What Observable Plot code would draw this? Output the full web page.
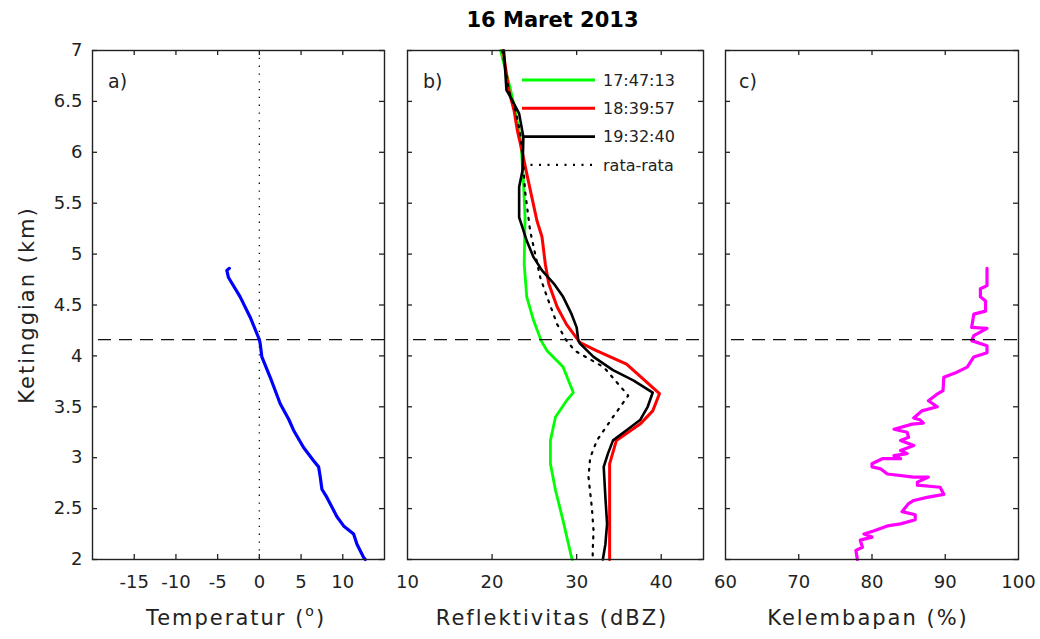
<!DOCTYPE html>
<html><head><meta charset="utf-8">
<script src="https://cdn.jsdelivr.net/npm/d3@7"></script>
<script src="https://cdn.jsdelivr.net/npm/@observablehq/plot@0.6"></script>
<style>
html,body{margin:0;padding:0;background:#fff;}
#wrap{position:relative;width:1040px;height:639px;overflow:hidden;background:#fff;}
#wrap svg{position:absolute;left:0;top:0;}
</style></head><body><div id="wrap"></div>
<script>
// ---------- data ----------
const title = "16 Maret 2013";
const yTicks = [2, 2.5, 3, 3.5, 4, 4.5, 5, 5.5, 6, 6.5, 7];
const freezingLevel = 4.16;

// a) temperature profile
const tempHeight = [4.86, 4.84, 4.77, 4.58, 4.38, 4.22, 4.16, 4.12, 3.99, 3.79, 3.53, 3.38, 3.27, 3.10, 2.97, 2.91, 2.81, 2.69, 2.61, 2.42, 2.33, 2.25, 2.15, 2.02, 2.00];
const tempValue  = [-3.6, -3.9, -3.7, -2.3, -1.1, -0.3, 0.0, 0.1, 0.3, 1.3, 2.5, 3.5, 4.1, 5.3, 6.5, 7.1, 7.3, 7.5, 8.1, 9.3, 10.1, 11.3, 11.7, 12.5, 12.7];
const tempTicks = [-15, -10, -5, 0, 5, 10];

// b) reflectivity profiles
const series = ["17:47:13", "18:39:57", "19:32:40", "rata-rata"];
const greenHeight = [7.00, 6.61, 6.38, 6.12, 5.72, 5.36, 4.90, 4.58, 4.35, 4.15, 4.05, 3.89, 3.64, 3.56, 3.40, 3.17, 2.94, 2.68, 2.38, 2.02, 2.00];
const greenDbz    = [21.0, 22.2, 22.8, 23.4, 23.7, 23.9, 23.8, 24.1, 24.9, 25.8, 26.5, 28.4, 29.6, 28.8, 27.5, 26.9, 26.9, 27.5, 28.4, 29.4, 29.5];
const redHeight = [7.00, 6.60, 6.41, 6.21, 5.99, 5.79, 5.56, 5.33, 5.17, 4.90, 4.71, 4.48, 4.31, 4.13, 4.05, 3.92, 3.63, 3.46, 3.33, 3.17, 2.94, 2.28, 2.00];
const redDbz    = [21.3, 22.0, 22.6, 23.0, 23.6, 24.1, 24.7, 25.3, 25.9, 26.3, 26.7, 27.7, 28.8, 30.4, 32.4, 35.9, 39.8, 39.0, 37.5, 34.7, 33.9, 33.9, 33.9];
const blackHeight = [7.00, 6.61, 6.54, 6.38, 6.15, 5.82, 5.66, 5.36, 5.26, 5.13, 4.97, 4.84, 4.71, 4.58, 4.41, 4.28, 4.15, 4.12, 3.99, 3.86, 3.76, 3.64, 3.50, 3.37, 3.27, 3.17, 3.04, 2.91, 2.61, 2.35, 2.15, 2.00];
const blackDbz    = [21.4, 21.7, 22.2, 23.2, 23.7, 23.6, 23.2, 23.2, 23.6, 24.1, 24.9, 25.9, 27.3, 28.4, 29.4, 30.0, 30.2, 30.4, 32.0, 34.3, 36.7, 39.0, 38.4, 37.5, 35.9, 34.3, 33.7, 33.2, 33.4, 33.6, 33.4, 33.1];
const meanHeight = [7.00, 6.60, 6.40, 6.20, 6.00, 5.62, 5.23, 4.77, 4.58, 4.31, 4.15, 4.05, 3.89, 3.61, 3.40, 3.17, 3.00, 2.81, 2.51, 2.28, 2.09, 2.00];
const meanDbz    = [21.2, 22.0, 22.8, 23.3, 23.6, 23.9, 24.5, 25.7, 26.5, 27.7, 28.8, 29.8, 33.2, 36.1, 34.3, 32.4, 31.6, 31.4, 31.8, 32.0, 31.9, 31.9];
const dbzTicks = [20, 30, 40];
const dbzLabels = [10, 20, 30, 40];

// c) relative humidity profile
const rhHeight = [4.86, 4.69, 4.66, 4.58, 4.54, 4.44, 4.41, 4.28, 4.27, 4.20, 4.15, 4.10, 4.03, 3.99, 3.89, 3.84, 3.79, 3.66, 3.63, 3.56, 3.50, 3.46, 3.39, 3.37, 3.34, 3.33, 3.28, 3.25, 3.20, 3.17, 3.12, 3.07, 3.04, 3.02, 2.99, 2.99, 2.94, 2.91, 2.89, 2.84, 2.81, 2.81, 2.76, 2.73, 2.71, 2.64, 2.61, 2.58, 2.55, 2.47, 2.44, 2.39, 2.35, 2.33, 2.28, 2.25, 2.22, 2.19, 2.12, 2.09, 2.00];
const rhValue  = [95.7, 95.7, 94.8, 94.8, 95.5, 95.5, 93.9, 93.6, 95.7, 93.9, 93.6, 95.7, 95.7, 93.9, 93.0, 91.6, 89.8, 89.7, 89.0, 87.7, 88.9, 86.8, 85.7, 86.6, 87.0, 85.5, 83.0, 84.8, 85.0, 83.9, 85.7, 83.9, 84.8, 83.0, 83.9, 81.4, 80.0, 80.0, 81.2, 82.1, 85.7, 87.7, 86.2, 86.2, 89.3, 89.8, 87.5, 85.7, 85.0, 84.1, 85.9, 85.9, 83.9, 82.1, 80.2, 78.9, 80.0, 78.4, 78.7, 77.8, 78.0];
const rhTicks = [70, 80, 90];
const rhLabels = [60, 70, 80, 90, 100];

// ---------- layout ----------
const W = 1040, H = 639;
const frameTop = 50, frameBottom = 559;
const FONT = "'DejaVu Sans', sans-serif";
const INK = "#222";

const zip = (hs, vs) => hs.map((h, i) => ({h, v: vs[i]}));

function makePanel(p) {
  const innerW = p.right - p.left, innerH = frameBottom - frameTop;
  const tickStyle = {stroke: INK, strokeWidth: 1.3};
  const marks = [
    ...p.marks,
    Plot.ruleY([freezingLevel], {stroke: "#111", strokeWidth: 1.3, strokeDasharray: "13,8", strokeDashoffset: -6}),
    Plot.frame({stroke: INK, strokeWidth: 1.4}),
    Plot.tickX(p.xTicks, {x: d => d, insetTop: innerH - 5, ...tickStyle}),
    Plot.tickX(p.xTicks, {x: d => d, insetBottom: innerH - 5, ...tickStyle}),
    Plot.tickY(yTicks, {y: d => d, insetLeft: innerW - 5, ...tickStyle}),
    Plot.tickY(yTicks, {y: d => d, insetRight: innerW - 5, ...tickStyle}),
    Plot.axisX({ticks: p.xLabels, tickSize: 0, tickPadding: 16, tickFormat: d => String(d), label: null, fontSize: 18})
  ];
  if (p.yAxis) marks.push(Plot.axisY({ticks: yTicks, tickSize: 0, tickPadding: 10, tickFormat: d => String(d), label: null, fontSize: 18}));
  return Plot.plot({
    width: W, height: H,
    marginLeft: p.left, marginRight: W - p.right, marginTop: frameTop, marginBottom: H - frameBottom,
    x: {domain: p.xDomain},
    y: {domain: [2, 7], axis: p.yAxis ? undefined : null},
    style: {background: "transparent", fontFamily: FONT, fontSize: "18px", color: INK, overflow: "visible"},
    marks
  });
}

const wrap = document.getElementById("wrap");

// panel a
wrap.appendChild(makePanel({
  left: 92, right: 384, xDomain: [-20, 15], xTicks: tempTicks, xLabels: tempTicks, yAxis: true,
  marks: [
    Plot.ruleX([0], {stroke: "#111", strokeWidth: 1.3, strokeDasharray: "1.3,6.5"}),
    Plot.line(zip(tempHeight, tempValue), {x: "v", y: "h", stroke: "#0000ff", strokeWidth: 3.2, strokeLinejoin: "round"})
  ]
}));

// panel b
wrap.appendChild(makePanel({
  left: 407, right: 703, xDomain: [10, 45], xTicks: dbzTicks, xLabels: dbzLabels,
  marks: [
    Plot.line(zip(greenHeight, greenDbz), {x: "v", y: "h", stroke: "#00ff00", strokeWidth: 2.8, strokeLinejoin: "round"}),
    Plot.line(zip(redHeight, redDbz), {x: "v", y: "h", stroke: "#ff0000", strokeWidth: 3, strokeLinejoin: "round"}),
    Plot.line(zip(blackHeight, blackDbz), {x: "v", y: "h", stroke: "#000", strokeWidth: 2.6, strokeLinejoin: "round"}),
    Plot.line(zip(meanHeight, meanDbz), {x: "v", y: "h", stroke: "#000", strokeWidth: 2.2, strokeDasharray: "2,6.5"})
  ]
}));

// panel c
wrap.appendChild(makePanel({
  left: 725, right: 1018, xDomain: [60, 100], xTicks: rhTicks, xLabels: rhLabels,
  marks: [
    Plot.line(zip(rhHeight, rhValue), {x: "v", y: "h", stroke: "#ff00ff", strokeWidth: 3.2, strokeLinejoin: "round"})
  ]
}));

// ---------- text overlay: title, axis labels, panel letters, legend ----------
const svg = d3.select(wrap).append("svg")
  .attr("width", W).attr("height", H)
  .style("font-family", FONT).style("pointer-events", "none");

svg.append("text").attr("x", 552.5).attr("y", 27).attr("text-anchor", "middle")
  .attr("font-weight", "bold").attr("font-size", 21).attr("fill", "#000").text(title);

const axLab = (x, y) => svg.append("text").attr("x", x).attr("y", y).attr("text-anchor", "middle")
  .attr("font-size", 21).attr("letter-spacing", "2px").attr("fill", INK);

const tl = axLab(236, 625);
tl.append("tspan").text("Temperatur (");
tl.append("tspan").attr("dy", -9).attr("font-size", 14).text("o");
tl.append("tspan").attr("dy", 9).text(")");
axLab(552, 625).text("Reflektivitas (dBZ)");
axLab(868, 625).text("Kelembapan (%)");
svg.append("text").attr("transform", "translate(34,305) rotate(-90)").attr("text-anchor", "middle")
  .attr("font-size", 21).attr("letter-spacing", "2px").attr("fill", INK).text("Ketinggian (km)");

const panelLetters = ["a)", "b)", "c)"];
const panelLetterX = [108, 423, 739];
panelLetters.forEach((t, i) => svg.append("text").attr("x", panelLetterX[i]).attr("y", 88)
  .attr("font-size", 19).attr("fill", INK).text(t));

// legend (inside panel b)
const legendColors = ["#00ff00", "#ff0000", "#000", "#000"];
const legendWidths = [2.8, 3, 2.6, 2.2];
const legendDash = [null, null, null, "2,6.5"];
series.forEach((s, i) => {
  const y = 80 + i * 28.3;
  svg.append("line").attr("x1", 522).attr("x2", 595).attr("y1", y).attr("y2", y)
    .attr("stroke", legendColors[i]).attr("stroke-width", legendWidths[i])
    .attr("stroke-dasharray", legendDash[i]);
  svg.append("text").attr("x", 603).attr("y", y).attr("dy", "0.36em")
    .attr("font-size", 16).attr("fill", INK).text(s);
});
</script></body></html>
